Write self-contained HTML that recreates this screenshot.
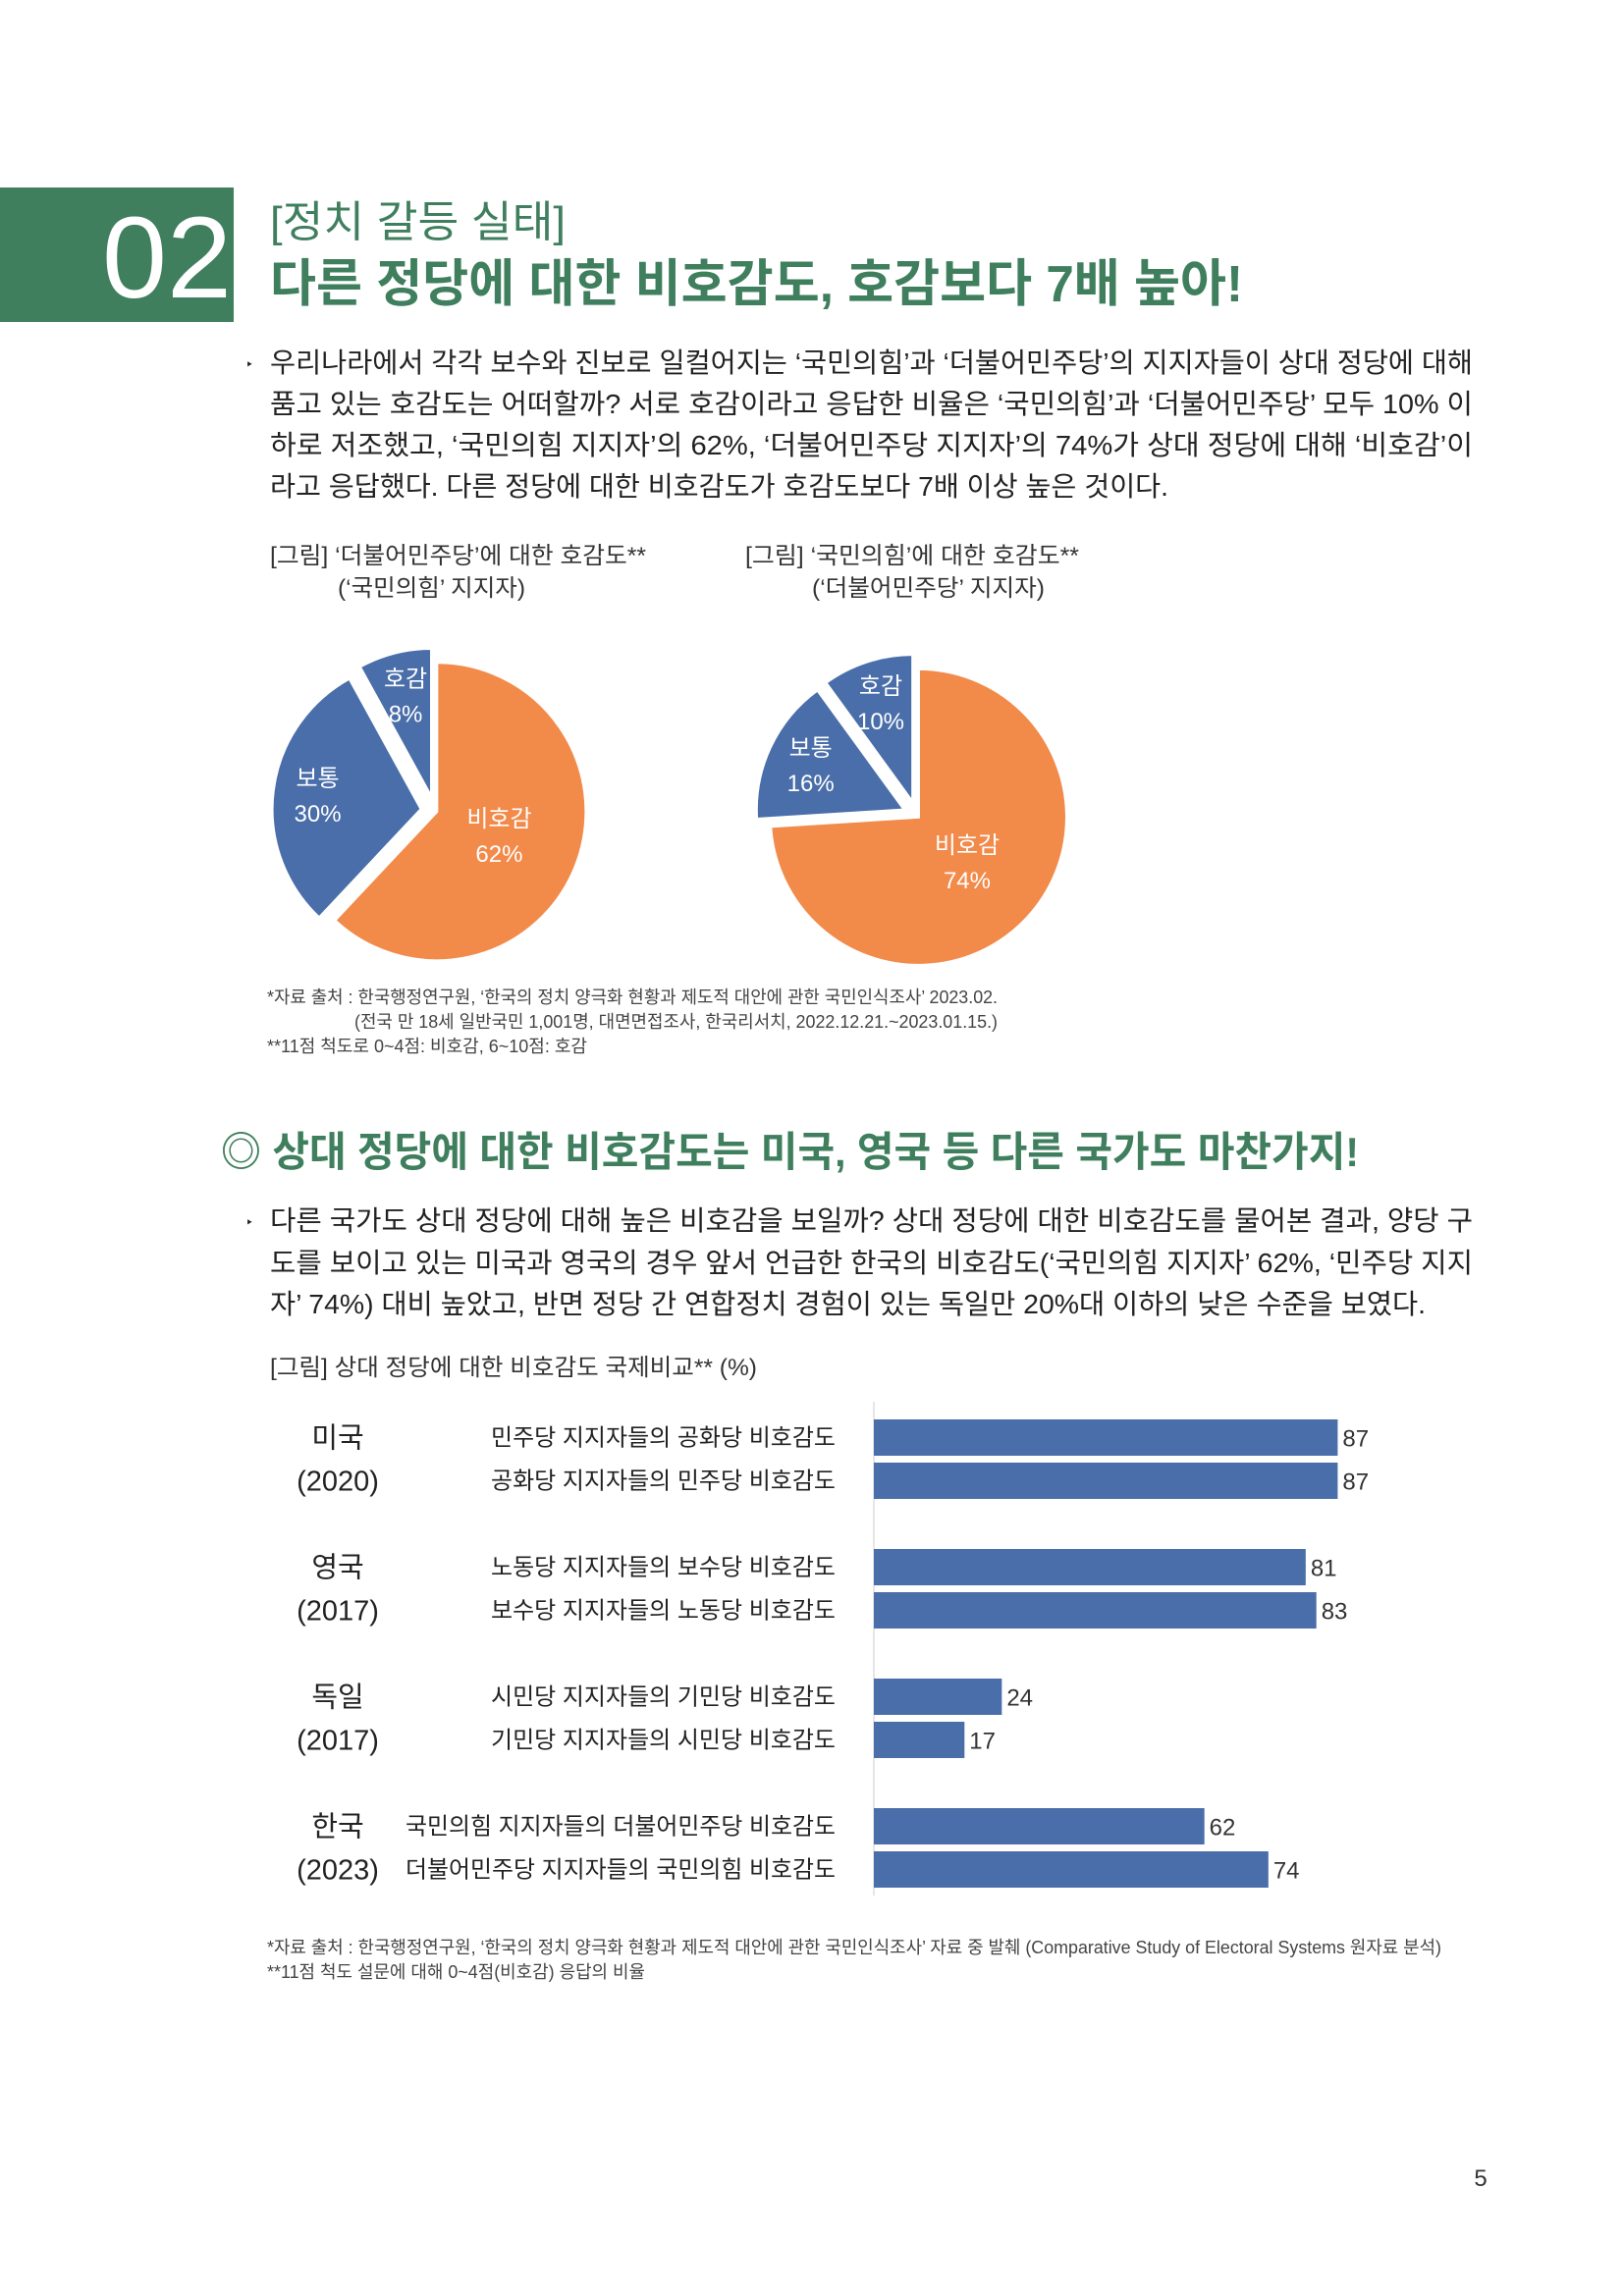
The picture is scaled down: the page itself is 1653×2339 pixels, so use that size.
<!DOCTYPE html>
<html><head><meta charset="utf-8"><style>
html,body{margin:0;padding:0;background:#fff}
svg{display:block}
text{font-family:"Liberation Sans","Noto Sans CJK KR",sans-serif;}
</style></head><body>
<svg id="page" width="1653" height="2339" viewBox="0 0 1653 2339" xmlns="http://www.w3.org/2000/svg">
<rect width="1653" height="2339" fill="#fff"/>
<g>
<rect x="0" y="191" width="238" height="137" fill="#3f7f5e"/>
<text x="170" y="303" font-family="Liberation Serif,serif" font-size="118" fill="#fff" text-anchor="middle" textLength="132" lengthAdjust="spacingAndGlyphs">02</text>
<text x="275" y="241" font-size="44" fill="#3f7f5e" textLength="301" lengthAdjust="spacingAndGlyphs">[정치 갈등 실태]</text>
<text x="275" y="307" font-size="52" font-weight="bold" fill="#3f7f5e" textLength="991" lengthAdjust="spacingAndGlyphs">다른 정당에 대한 비호감도, 호감보다 7배 높아!</text>
</g>
<g font-size="28" fill="#222">
<text x="250" y="376" font-size="14">‣</text>
<text x="275" y="379" textLength="1225" lengthAdjust="spacingAndGlyphs">우리나라에서 각각 보수와 진보로 일컬어지는 ‘국민의힘’과 ‘더불어민주당’의 지지자들이 상대 정당에 대해</text>
<text x="275" y="421" textLength="1225" lengthAdjust="spacingAndGlyphs">품고 있는 호감도는 어떠할까? 서로 호감이라고 응답한 비율은 ‘국민의힘’과 ‘더불어민주당’ 모두 10% 이</text>
<text x="275" y="463" textLength="1225" lengthAdjust="spacingAndGlyphs">하로 저조했고, ‘국민의힘 지지자’의 62%, ‘더불어민주당 지지자’의 74%가 상대 정당에 대해 ‘비호감’이</text>
<text x="275" y="505" textLength="915" lengthAdjust="spacingAndGlyphs">라고 응답했다. 다른 정당에 대한 비호감도가 호감도보다 7배 이상 높은 것이다.</text>
</g>
<g font-size="24" fill="#333">
<text x="275" y="574" textLength="383" lengthAdjust="spacingAndGlyphs">[그림] ‘더불어민주당’에 대한 호감도**</text>
<text x="344" y="607" textLength="191" lengthAdjust="spacingAndGlyphs">(‘국민의힘’ 지지자)</text>
<text x="759" y="574" textLength="340" lengthAdjust="spacingAndGlyphs">[그림] ‘국민의힘’에 대한 호감도**</text>
<text x="827" y="607" textLength="237" lengthAdjust="spacingAndGlyphs">(‘더불어민주당’ 지지자)</text>
</g>
<g id="pies"></g>
<g font-size="18" fill="#444">
<text x="272" y="1022" textLength="744" lengthAdjust="spacingAndGlyphs">*자료 출처 : 한국행정연구원, ‘한국의 정치 양극화 현황과 제도적 대안에 관한 국민인식조사’ 2023.02.</text>
<text x="361" y="1047" textLength="655" lengthAdjust="spacingAndGlyphs">(전국 만 18세 일반국민 1,001명, 대면면접조사, 한국리서치, 2022.12.21.~2023.01.15.)</text>
<text x="272" y="1072" textLength="326" lengthAdjust="spacingAndGlyphs">**11점 척도로 0~4점: 비호감, 6~10점: 호감</text>
</g>
<text x="225" y="1188" font-size="42" font-weight="bold" fill="#3f7f5e" textLength="1159" lengthAdjust="spacingAndGlyphs">◎ 상대 정당에 대한 비호감도는 미국, 영국 등 다른 국가도 마찬가지!</text>
<g font-size="28" fill="#222">
<text x="250" y="1250" font-size="14">‣</text>
<text x="275" y="1253" textLength="1225" lengthAdjust="spacingAndGlyphs">다른 국가도 상대 정당에 대해 높은 비호감을 보일까? 상대 정당에 대한 비호감도를 물어본 결과, 양당 구</text>
<text x="275" y="1296" textLength="1225" lengthAdjust="spacingAndGlyphs">도를 보이고 있는 미국과 영국의 경우 앞서 언급한 한국의 비호감도(‘국민의힘 지지자’ 62%, ‘민주당 지지</text>
<text x="275" y="1338" textLength="1177" lengthAdjust="spacingAndGlyphs">자’ 74%) 대비 높았고, 반면 정당 간 연합정치 경험이 있는 독일만 20%대 이하의 낮은 수준을 보였다.</text>
</g>
<text x="275" y="1401" font-size="24" fill="#333" textLength="496" lengthAdjust="spacingAndGlyphs">[그림] 상대 정당에 대한 비호감도 국제비교** (%)</text>
<g id="bars"></g>
<g font-size="18" fill="#444">
<text x="272" y="1990" textLength="1196" lengthAdjust="spacingAndGlyphs">*자료 출처 : 한국행정연구원, ‘한국의 정치 양극화 현황과 제도적 대안에 관한 국민인식조사’ 자료 중 발췌 (Comparative Study of Electoral Systems 원자료 분석)</text>
<text x="272" y="2015" textLength="385" lengthAdjust="spacingAndGlyphs">**11점 척도 설문에 대해 0~4점(비호감) 응답의 비율</text>
</g>
<text x="1508" y="2227" font-size="24" fill="#333" text-anchor="middle">5</text>
</svg>
<script>
const NS="http://www.w3.org/2000/svg";
// pie data
const pieLeftLabels=["비호감","보통","호감"];
const pieLeftValues=[62,30,8];
const pieRightLabels=["비호감","보통","호감"];
const pieRightValues=[74,16,10];
// bar data
const countries=["미국","영국","독일","한국"];
const years=["(2020)","(2017)","(2017)","(2023)"];
const barLabels=["민주당 지지자들의 공화당 비호감도","공화당 지지자들의 민주당 비호감도","노동당 지지자들의 보수당 비호감도","보수당 지지자들의 노동당 비호감도","시민당 지지자들의 기민당 비호감도","기민당 지지자들의 시민당 비호감도","국민의힘 지지자들의 더불어민주당 비호감도","더불어민주당 지지자들의 국민의힘 비호감도"];
const barValues=[87,87,81,83,24,17,62,74];

function el(tag,attrs,parent){const e=document.createElementNS(NS,tag);for(const k in attrs)e.setAttribute(k,attrs[k]);parent.appendChild(e);return e;}
const pies=document.getElementById('pies');
function drawPie(cx,cy,r,labels,values,name){
  const g=el('g',{},pies);
  
  
  const total=values.reduce((a,b)=>a+b,0);
  let a0=0;
  values.forEach((v,i)=>{
    const a1=a0+v/total*2*Math.PI;
    const mid=(a0+a1)/2;
    const off=i===0?2:14;
    const ox=cx+off*Math.sin(mid),oy=cy-off*Math.cos(mid);
    const x0=ox+r*Math.sin(a0),y0=oy-r*Math.cos(a0),x1=ox+r*Math.sin(a1),y1=oy-r*Math.cos(a1);
    const large=(a1-a0)>Math.PI?1:0;
    const p=el('path',{d:`M${ox},${oy} L${x0},${y0} A${r},${r} 0 ${large} 1 ${x1},${y1} Z`,fill:i===0?'#f28a4a':'#4a6ea9',stroke:'#fff','stroke-width':3},g);
    
    
    const lr=i===0?r*0.45:r*0.7;
    const lx=ox+lr*Math.sin(mid),ly=oy-lr*Math.cos(mid);
    const t1=el('text',{x:lx,y:ly-10,'text-anchor':'middle','font-size':24,fill:'#fff'},g);
    t1.textContent=labels[i];
    
    
    const t2=el('text',{x:lx,y:ly+26,'text-anchor':'middle','font-size':24,fill:'#fff'},g);
    t2.textContent=v+'%';
    
    
    a0=a1;
  });
}
drawPie(443,826,152,pieLeftLabels,pieLeftValues,'pie-left');
drawPie(934,831,151,pieRightLabels,pieRightValues,'pie-right');

const bars=document.getElementById('bars');
const x0=890,unit=5.43,top0=1446,groupGap=132,pairGap=44,bh=37;
const xs=v=>x0+v*unit;
const ys=i=>top0+Math.floor(i/2)*groupGap+(i%2)*pairGap;
const axis=el('line',{x1:x0,y1:1428,x2:x0,y2:1931,stroke:'#ccc','stroke-width':1},bars);


countries.forEach((c,g)=>{
  const t=el('text',{x:344,y:ys(g*2)+bh/2+10,'text-anchor':'middle','font-size':29,fill:'#222'},bars);
  t.textContent=c;
  
  
  const y=el('text',{x:344,y:ys(g*2+1)+bh/2+10,'text-anchor':'middle','font-size':29,fill:'#222'},bars);
  y.textContent=years[g];
  
  
});
barValues.forEach((v,i)=>{
  const y=ys(i);
  const r=el('rect',{x:x0,y:y,width:xs(v)-x0,height:bh,fill:'#4a6ea9'},bars);
  
  
  const lw=barLabels[i].length>20?438:351;
  const l=el('text',{x:851,y:y+bh/2+8,'text-anchor':'end','font-size':24,fill:'#222',textLength:lw,lengthAdjust:'spacingAndGlyphs'},bars);
  l.textContent=barLabels[i];
  
  
  const vt=el('text',{x:xs(v)+5,y:y+bh/2+9,'font-size':24,fill:'#333'},bars);
  vt.textContent=v;
  
  
});
</script>
</body></html>
